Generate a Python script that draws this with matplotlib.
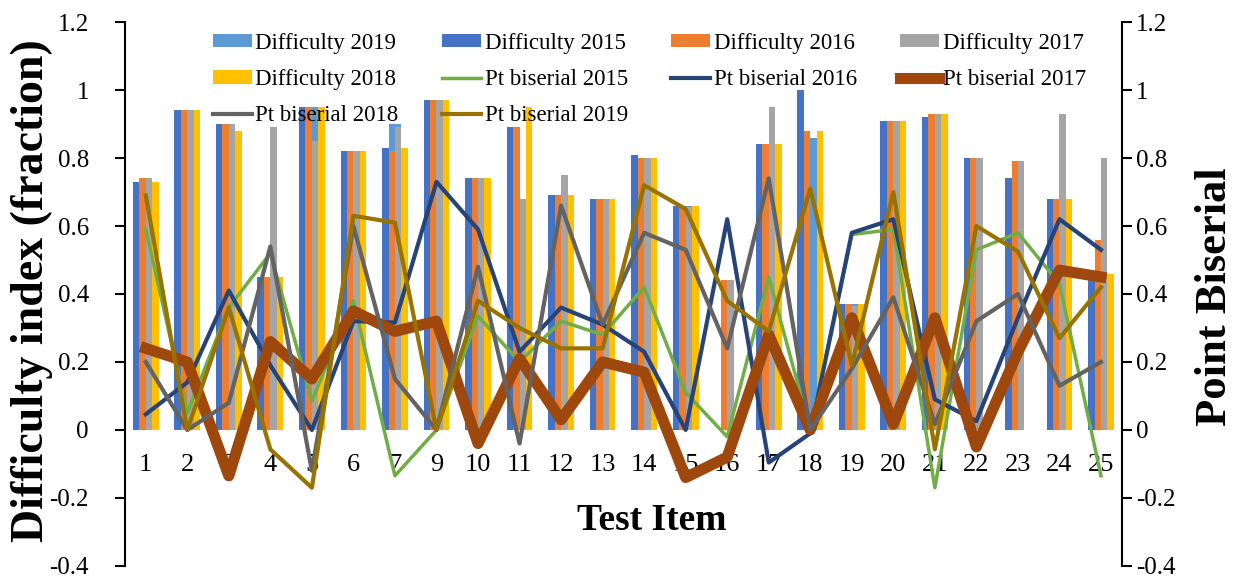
import numpy as np
import matplotlib
matplotlib.use("Agg")
import matplotlib.pyplot as plt

plt.rcParams['font.family'] = ['Liberation Serif', 'DejaVu Serif']

# test items (item 8 is not in the chart)
items = ['1', '2', '3', '4', '5', '6', '7', '9', '10', '11', '12', '13',
         '14', '15', '16', '17', '18', '19', '20', '21', '22', '23', '24', '25']
nan = np.nan

# difficulty index
diff2015 = [0.73, 0.94, 0.90, 0.45, 0.95, 0.82, 0.83, 0.97, 0.74, 0.89, 0.69, 0.68,
            0.81, 0.66, nan, 0.84, 1.00, 0.37, 0.91, 0.92, 0.80, 0.74, 0.68, 0.45]
diff2016 = [0.74, 0.94, 0.90, 0.45, 0.95, 0.82, 0.82, 0.97, 0.74, 0.89, 0.69, 0.68,
            0.80, 0.66, 0.44, 0.84, 0.88, 0.37, 0.91, 0.93, 0.80, 0.79, 0.68, 0.56]
diff2017 = [0.74, 0.94, 0.90, 0.89, 0.85, 0.82, 0.89, 0.97, 0.74, 0.68, 0.75, 0.68,
            0.80, 0.655, 0.44, 0.95, nan, 0.365, 0.91, 0.93, 0.80, 0.79, 0.93, 0.80]
diff2018 = [0.73, 0.94, 0.88, 0.45, 0.95, 0.82, 0.83, 0.97, 0.74, 0.95, 0.69, 0.68,
            0.80, 0.66, nan, 0.84, 0.88, 0.37, 0.91, 0.93, nan, nan, 0.68, 0.46]
diff2019 = [0.74, 0.94, 0.90, 0.45, 0.95, 0.82, 0.90, 0.97, 0.74, 0.68, 0.69, 0.68,
            0.80, 0.66, 0.44, 0.84, 0.86, 0.37, 0.91, 0.93, 0.80, 0.79, 0.68, 0.56]

# point biserial
pb2015 = [0.59, 0.05, 0.36, 0.52, 0.085, 0.38, -0.135, 0.0, 0.335, 0.20, 0.32, 0.28,
          0.42, 0.11, -0.02, 0.45, 0.0, 0.575, 0.59, -0.17, 0.53, 0.58, 0.43, -0.135]
pb2016 = [0.046, 0.14, 0.41, 0.19, 0.0, 0.32, 0.316, 0.73, 0.59, 0.23, 0.36, 0.31,
          0.23, 0.0, 0.62, -0.096, -0.01, 0.58, 0.62, 0.09, 0.026, 0.33, 0.62, 0.53]
pb2017 = [0.24, 0.20, -0.135, 0.26, 0.15, 0.35, 0.29, 0.32, -0.04, 0.21, 0.03, 0.20,
          0.17, -0.14, -0.08, 0.28, 0.0, 0.33, 0.017, 0.33, -0.05, 0.23, 0.47, 0.45]
pb2018 = [0.20, 0.0, 0.08, 0.54, -0.12, 0.60, 0.15, 0.0, 0.48, -0.04, 0.66, 0.31,
          0.58, 0.53, 0.24, 0.74, 0.0, 0.18, 0.39, 0.017, 0.32, 0.40, 0.13, 0.20]
pb2019 = [0.69, 0.0, 0.36, -0.057, -0.17, 0.63, 0.61, 0.0, 0.38, 0.30, 0.24, 0.24,
          0.72, 0.65, 0.38, 0.29, 0.71, 0.19, 0.70, -0.057, 0.60, 0.525, 0.27, 0.42]

yticks = [-0.4, -0.2, 0, 0.2, 0.4, 0.6, 0.8, 1, 1.2]
ytick_labels = ['-0.4', '-0.2', '0', '0.2', '0.4', '0.6', '0.8', '1', '1.2']

fig = plt.figure(figsize=(12.46, 5.81), dpi=100)
ax = fig.add_axes([0.1003, 0.026, 0.80, 0.936])

x = np.arange(len(items))
w = 0.155

h19 = ax.bar(x, diff2019, 2 * w, color='#5B9BD5', zorder=1, label='Difficulty 2019')
h15 = ax.bar(x - 1.5 * w, diff2015, w, color='#4472C4', zorder=2, label='Difficulty 2015')
h16 = ax.bar(x - 0.5 * w, diff2016, w, color='#ED7D31', zorder=2, label='Difficulty 2016')
h17 = ax.bar(x + 0.5 * w, diff2017, w, color='#A5A5A5', zorder=2, label='Difficulty 2017')
h18 = ax.bar(x + 1.5 * w, diff2018, w, color='#FFC000', zorder=2, label='Difficulty 2018')

l15, = ax.plot(x, pb2015, color='#70AD47', lw=2.5, zorder=3, label='Pt biserial 2015')
l16, = ax.plot(x, pb2016, color='#264478', lw=3.0, zorder=3, label='Pt biserial 2016')
l17, = ax.plot(x, pb2017, color='#9E480E', lw=8.0, zorder=3, label='Pt biserial 2017',
               solid_joinstyle='round')
l18, = ax.plot(x, pb2018, color='#636363', lw=3.0, zorder=3, label='Pt biserial 2018')
l19, = ax.plot(x, pb2019, color='#997300', lw=3.0, zorder=3, label='Pt biserial 2019')

ax.set_xlim(-0.5, len(items) - 0.5)
ax.set_ylim(-0.4, 1.2)
ax.set_yticks(yticks)
ax.set_yticklabels(ytick_labels)
ax.set_xticks(x)
ax.set_xticklabels(items)
ax.spines['top'].set_visible(False)
ax.spines['right'].set_visible(False)
ax.spines['bottom'].set_position(('data', 0))
ax.spines['bottom'].set_visible(False)
ax.spines['left'].set_linewidth(1.5)
ax.tick_params(axis='x', length=0, pad=17, labelsize=19)
ax.tick_params(axis='y', length=7, width=1.5, pad=19, labelsize=18)

ax2 = ax.twinx()
ax2.set_ylim(-0.4, 1.2)
ax2.set_yticks(yticks)
ax2.set_yticklabels(ytick_labels)
for s in ['top', 'left', 'bottom']:
    ax2.spines[s].set_visible(False)
ax2.spines['right'].set_linewidth(1.5)
ax2.tick_params(axis='y', length=7, width=1.5, pad=3, labelsize=18)

fig.text(32 / 1246, 0.5, 'Difficulty index (fraction)', rotation=90, ha='center',
         va='center', fontsize=33, fontweight='bold')
fig.text(1215 / 1246, 1 - 297 / 581, 'Point Biserial', rotation=90, ha='center',
         va='center', fontsize=32, fontweight='bold')
fig.text(652 / 1246, 1 - 520 / 581, 'Test Item', ha='center', va='center',
         fontsize=27, fontweight='bold')

# column-major order so the rows read like the original legend
handles = [h19, h18, l18, h15, l15, l19, h16, l16, h17, l17]
labels = [hh.get_label() for hh in handles]
fig.legend(handles, labels, ncol=4, loc='upper left',
           bbox_to_anchor=(213 / 1246, 1 - 33 / 581), frameon=False, fontsize=16.5,
           handlelength=1.7, handleheight=0.5, handletextpad=0.15, columnspacing=1.9,
           labelspacing=0.66, borderaxespad=0, borderpad=0)

fig.savefig('out.png', dpi=100)
